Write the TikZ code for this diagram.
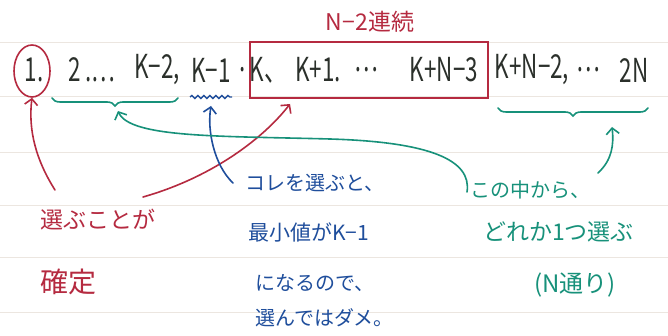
\documentclass[tikz,border=0pt]{standalone}
\usepackage{fontspec}
\setmainfont{Noto Sans CJK JP}
\usetikzlibrary{shapes.geometric,decorations.pathreplacing,decorations.pathmorphing,arrows.meta}
\definecolor{ink}{HTML}{2B302B}
\definecolor{rd}{HTML}{B52A40}
\definecolor{bl}{HTML}{1F4E9C}
\definecolor{gn}{HTML}{17917A}
\definecolor{paper}{HTML}{ECE6E0}
\newcommand{\nar}[1]{\scalebox{0.68}[1]{#1}}
\tikzset{
  big/.style={inner sep=0pt, text=ink, font=\fontsize{33}{36}\selectfont},
  note/.style={inner sep=0pt, font=\fontsize{20}{24}\selectfont},
  pen/.style={line width=1.6pt, line cap=round},
  tip/.style={-{Straight Barb[length=6pt,width=13pt]}},
}
\begin{document}
\begin{tikzpicture}[x=1pt,y=-1pt]
\useasboundingbox (0,0) rectangle (668,336);
\fill[white] (0,0) rectangle (668,336);
% ruled paper
\foreach \yy in {42,96,152,205,257,312}
  \draw[paper, line width=0.8pt] (0,\yy) -- (668,\yy);

% main sequence
\node[big] (one) at (34,70) {\nar{1.}};
\node[draw=rd, line width=1.6pt, ellipse, minimum width=36pt, minimum height=52pt, inner sep=0pt] (circ) at (32,71) {};
\node[big] (two) at (92,70) {\nar{2 .⋯}};
\node[big] (km2) at (157,70) {\nar{K−2,}};
\node[big] (km1) at (211,70) {\nar{K−1}};
\node[big] (dot) at (243,70) {\nar{.}};
\node[big] (k) at (268,70) {\nar{K、}};
\node[big] (kp1) at (318,70) {\nar{K+1.}};
\node[big] (dots2) at (366,70) {\nar{⋯}};
\node[big] (kn3) at (444,70) {\nar{K+N−3}};
\node[big] (kn2) at (532,70) {\nar{K+N−2,}};
\node[big] (dots3) at (588,70) {\nar{⋯}};
\node[big] (twoN) at (634,70) {\nar{2N}};

% red box and title
\draw[rd, line width=1.8pt] (250,42) rectangle (488,98);
\coordinate (boxbl) at (290,104);
\node[note, text=rd, font=\fontsize{23}{26}\selectfont] (title) at (370,22) {N−2連続};

% braces and wave
\draw[gn, pen, decorate, decoration={brace, mirror, amplitude=8pt}] (52,98) -- (178,98);
\coordinate (bra1) at (118,111);
\draw[gn, pen, decorate, decoration={brace, mirror, amplitude=8pt}] (498,108) -- (648,108);
\coordinate (bra2) at (612,127);
\draw[bl, line width=1.4pt, decorate, decoration={snake, amplitude=1.5pt, segment length=6pt}] (190,97) -- (232,97);
\coordinate (wave) at (211,106);

% red notes
\node[note, text=rd, font=\fontsize{23}{26}\selectfont, anchor=west] (r1) at (40,220) {選ぶことが};
\node[note, text=rd, font=\fontsize{28}{32}\selectfont, anchor=west] (r2) at (40,282) {確定};

% blue notes
\node[note, text=bl, anchor=west] (b1) at (245,183) {コレを選ぶと、};
\node[note, text=bl, font=\fontsize{21}{24}\selectfont, anchor=west] (b2) at (248,232) {最小値がK−1};
\node[note, text=bl, anchor=west] (b3) at (255,283) {になるので、};
\node[note, text=bl, anchor=west] (b4) at (255,318) {選んではダメ。};

% green notes
\node[note, text=gn, anchor=west] (g1) at (470,190) {この中から、};
\node[note, text=gn, font=\fontsize{23}{26}\selectfont, anchor=west] (g2) at (483,232) {どれか1つ選ぶ};
\node[note, text=gn, font=\fontsize{24}{26}\selectfont] (g3) at (575,285) {(N通り)};

% connectors
\coordinate (ra) at (55,190);
\draw[rd, pen, tip] (ra) .. controls (36,160) and (28,130) .. (circ.south);
\coordinate (rb) at (143,197);
\draw[rd, pen, tip] (rb) .. controls (210,178) and (262,140) .. (boxbl);
\coordinate (ba) at (233,183);
\draw[bl, pen, tip] (ba) .. controls (214,165) and (207,130) .. (wave);
\coordinate (ga) at (467,192);
\draw[gn, pen, tip] (ga) .. controls (472,160) and (430,142) .. (330,139)
  .. controls (220,136) and (130,138) .. (bra1);
\coordinate (gb) at (598,173);
\draw[gn, pen, tip] (gb) .. controls (612,160) and (614,145) .. (bra2);
\end{tikzpicture}
\end{document}
